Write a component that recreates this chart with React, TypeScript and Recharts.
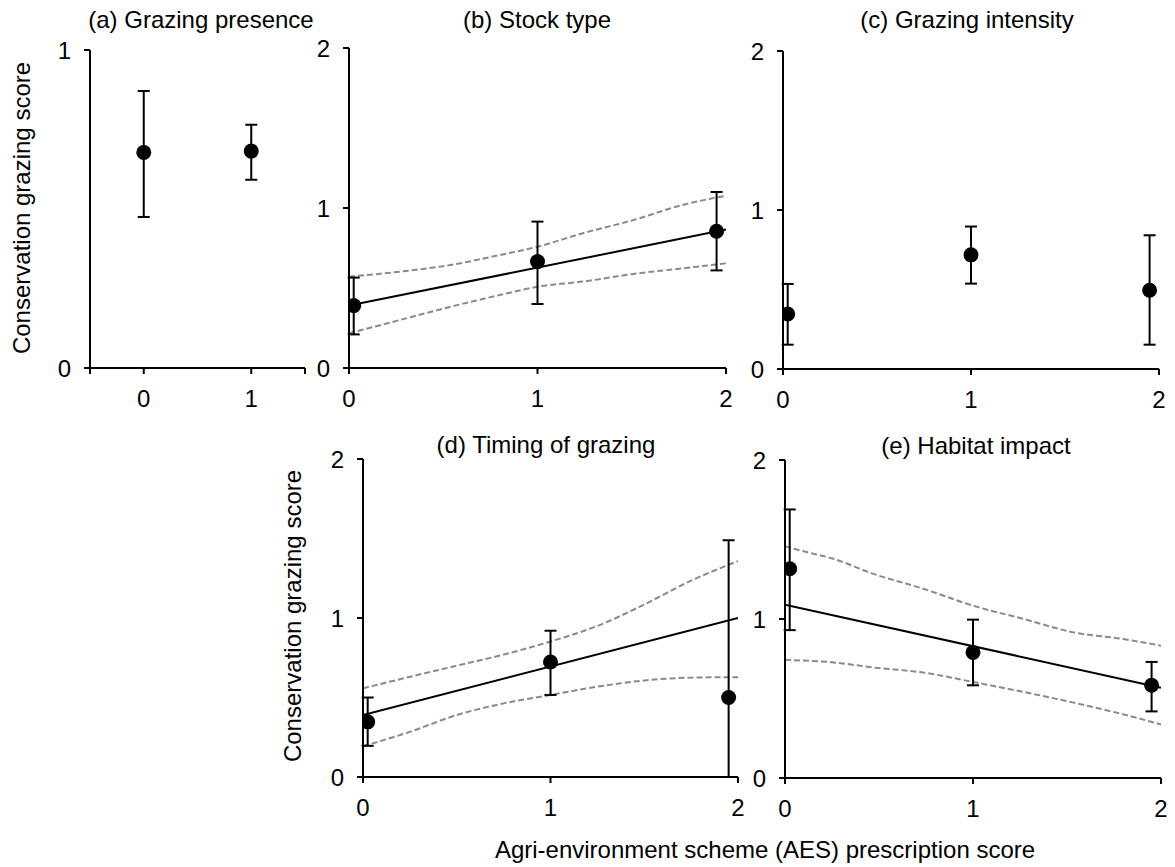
import React from 'react';
import { ComposedChart, XAxis, YAxis, Line, Scatter, ErrorBar } from 'recharts';

const FONT = '"Liberation Sans", Arial, sans-serif';
const W = 1175;
const H = 867;

// ---------- Data ----------
// (a) Grazing presence
const aX = [0, 1];
const aMean = [0.678, 0.682];
const aLow = [0.475, 0.592];
const aHigh = [0.871, 0.765];

// (b) Stock type
const bX = [0.025, 1, 1.95];
const bMean = [0.39, 0.665, 0.855];
const bLow = [0.21, 0.4, 0.61];
const bHigh = [0.565, 0.915, 1.1];
const bFitX = [0, 2];
const bFitY = [0.39, 0.865];
const bCiX = [0, 0.27, 0.54, 0.8, 1.0, 1.24, 1.51, 1.77, 2.0];
const bUpper = [0.571, 0.602, 0.644, 0.706, 0.758, 0.842, 0.925, 1.019, 1.077];
const bLower = [0.217, 0.3, 0.383, 0.456, 0.508, 0.54, 0.588, 0.623, 0.654];

// (c) Grazing intensity
const cX = [0.025, 1, 1.95];
const cMean = [0.346, 0.718, 0.495];
const cLow = [0.153, 0.537, 0.153];
const cHigh = [0.535, 0.896, 0.841];

// (d) Timing of grazing
const dX = [0.025, 1, 1.95];
const dMean = [0.347, 0.723, 0.5];
const dLow = [0.196, 0.516, 0];
const dHigh = [0.5, 0.92, 1.489];
const dFitX = [0, 2];
const dFitY = [0.39, 1.0];
const dCiX = [0, 0.25, 0.5, 0.75, 1.0, 1.25, 1.5, 1.75, 2.0];
const dUpper = [0.558, 0.63, 0.7, 0.77, 0.852, 0.95, 1.085, 1.235, 1.358];
const dLower = [0.194, 0.284, 0.39, 0.463, 0.516, 0.568, 0.607, 0.625, 0.628];

// (e) Habitat impact
const eX = [0.025, 1, 1.95];
const eMean = [1.316, 0.79, 0.583];
const eLow = [0.93, 0.583, 0.419];
const eHigh = [1.689, 0.996, 0.73];
const eFitX = [0, 2];
const eFitY = [1.09, 0.568];
const eUpX = [0, 0.115, 0.257, 0.47, 0.736, 1.0, 1.27, 1.535, 1.8, 2.0];
const eUpper = [1.457, 1.421, 1.379, 1.284, 1.19, 1.084, 1.0, 0.916, 0.874, 0.832];
const eLoX = [0, 0.257, 0.47, 0.736, 1.0, 1.27, 1.535, 1.8, 2.0];
const eLower = [0.743, 0.727, 0.695, 0.663, 0.604, 0.541, 0.474, 0.4, 0.337];

// text
const titles = ['(a) Grazing presence', '(b) Stock type', '(c) Grazing intensity', '(d) Timing of grazing', '(e) Habitat impact'];
const yLabel = 'Conservation grazing score';
const xLabel = 'Agri-environment scheme (AES) prescription score';

// ---------- helpers ----------
const buildPoints = (xs: number[], ys: number[], lo: number[], hi: number[]) =>
  xs.map((x, i) => ({ x, y: ys[i], err: [ys[i] - lo[i], hi[i] - ys[i]] }));
const buildLine = (xs: number[], ys: number[]) => xs.map((x, i) => ({ x, y: ys[i] }));

const Dot = (props: any) => {
  const { cx, cy } = props;
  if (cx == null || cy == null) return null;
  return <circle cx={cx} cy={cy} r={7.5} fill="#000" />;
};

const axisStyle = { stroke: '#000', strokeWidth: 2 };
const tickStyle = { fill: '#000', fontSize: 24, fontFamily: FONT };
const fmt = (v: number) => (Number.isInteger(v) ? String(v) : '');

type PanelProps = {
  box: [number, number, number, number];
  xDomain: [number, number];
  xTicks: number[];
  yDomain: [number, number];
  yTicks: number[];
  points: any[];
  fit?: any[];
  upper?: any[];
  lower?: any[];
};

function Panel({ box, xDomain, xTicks, yDomain, yTicks, points, fit, upper, lower }: PanelProps) {
  const [l, t, r, b] = box;
  const yW = 60;
  const xH = 50;
  return (
    <div style={{ position: 'absolute', left: 0, top: 0, width: W, height: H }}>
      <ComposedChart
        width={W}
        height={H}
        margin={{ top: t, left: l - yW, right: W - r, bottom: H - b - xH }}
      >
        <XAxis
          type="number"
          dataKey="x"
          domain={xDomain}
          ticks={xTicks}
          interval={0}
          allowDataOverflow
          height={xH}
          tickSize={6}
          tickMargin={16}
          axisLine={axisStyle}
          tickLine={axisStyle}
          tick={tickStyle}
          tickFormatter={fmt}
        />
        <YAxis
          type="number"
          dataKey="y"
          domain={yDomain}
          ticks={yTicks}
          interval={0}
          allowDataOverflow
          width={yW}
          tickSize={6}
          tickMargin={13}
          axisLine={axisStyle}
          tickLine={axisStyle}
          tick={tickStyle}
          tickFormatter={fmt}
        />
        {upper && (
          <Line data={upper} dataKey="y" type="monotone" stroke="#8a8a8a" strokeWidth={2}
            strokeDasharray="6 3" dot={false} activeDot={false} isAnimationActive={false} />
        )}
        {lower && (
          <Line data={lower} dataKey="y" type="monotone" stroke="#8a8a8a" strokeWidth={2}
            strokeDasharray="6 3" dot={false} activeDot={false} isAnimationActive={false} />
        )}
        {fit && (
          <Line data={fit} dataKey="y" type="linear" stroke="#000" strokeWidth={2}
            dot={false} activeDot={false} isAnimationActive={false} />
        )}
        <Scatter data={points} dataKey="y" shape={Dot} isAnimationActive={false}>
          <ErrorBar dataKey="err" direction="y" width={6} stroke="#000" strokeWidth={2} />
        </Scatter>
      </ComposedChart>
    </div>
  );
}

const T = (props: any) => (
  <text fontFamily={FONT} fontSize={24} fill="#000" textAnchor="middle" dy="0.35em" {...props} />
);

export default function App() {
  return (
    <div style={{ position: 'absolute', left: 0, top: 0, width: W, height: H, background: '#fff', overflow: 'hidden' }}>
      <Panel box={[90, 50, 305, 368]} xDomain={[-0.5, 1.5]} xTicks={[-0.5, 0, 1, 1.5]} yDomain={[0, 1]} yTicks={[0, 1]}
        points={buildPoints(aX, aMean, aLow, aHigh)} />
      <Panel box={[349, 48, 726, 368]} xDomain={[0, 2]} xTicks={[0, 1, 2]} yDomain={[0, 2]} yTicks={[0, 1, 2]}
        points={buildPoints(bX, bMean, bLow, bHigh)} fit={buildLine(bFitX, bFitY)}
        upper={buildLine(bCiX, bUpper)} lower={buildLine(bCiX, bLower)} />
      <Panel box={[783, 51, 1159, 369]} xDomain={[0, 2]} xTicks={[0, 1, 2]} yDomain={[0, 2]} yTicks={[0, 1, 2]}
        points={buildPoints(cX, cMean, cLow, cHigh)} />
      <Panel box={[363, 459, 738, 777]} xDomain={[0, 2]} xTicks={[0, 1, 2]} yDomain={[0, 2]} yTicks={[0, 1, 2]}
        points={buildPoints(dX, dMean, dLow, dHigh)} fit={buildLine(dFitX, dFitY)}
        upper={buildLine(dCiX, dUpper)} lower={buildLine(dCiX, dLower)} />
      <Panel box={[785, 460, 1161, 778]} xDomain={[0, 2]} xTicks={[0, 1, 2]} yDomain={[0, 2]} yTicks={[0, 1, 2]}
        points={buildPoints(eX, eMean, eLow, eHigh)} fit={buildLine(eFitX, eFitY)}
        upper={buildLine(eUpX, eUpper)} lower={buildLine(eLoX, eLower)} />
      <svg width={W} height={H} style={{ position: 'absolute', left: 0, top: 0, pointerEvents: 'none' }}>
        <T x={201} y={20}>{titles[0]}</T>
        <T x={537} y={20}>{titles[1]}</T>
        <T x={967} y={20}>{titles[2]}</T>
        <T x={546} y={445}>{titles[3]}</T>
        <T x={976} y={446}>{titles[4]}</T>
        <T transform="translate(22,208) rotate(-90)" x={0} y={0}>{yLabel}</T>
        <T transform="translate(293,616) rotate(-90)" x={0} y={0}>{yLabel}</T>
        <T x={765} y={850}>{xLabel}</T>
      </svg>
    </div>
  );
}
